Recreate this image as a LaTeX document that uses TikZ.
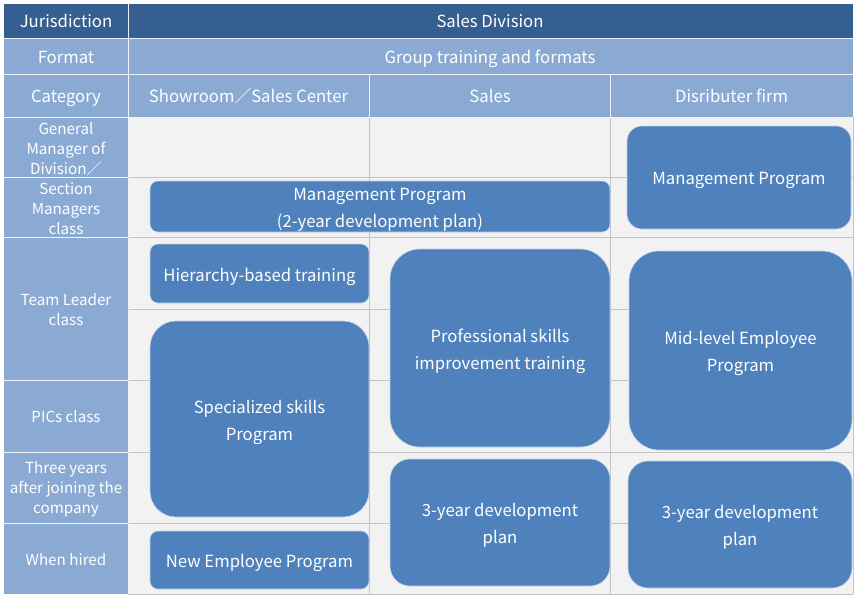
\documentclass[tikz,border=0pt]{standalone}
\usepackage{fontspec}
\setmainfont{Noto Sans CJK JP}
\definecolor{hdark}{HTML}{365F91}
\definecolor{hlight}{HTML}{8AAAD4}
\definecolor{cellbg}{HTML}{F2F2F2}
\definecolor{gridc}{HTML}{C4C4C4}
\definecolor{boxc}{HTML}{4F81BD}
\definecolor{boxedge}{HTML}{C5D3E6}
\begin{document}
\begin{tikzpicture}[x=1pt,y=-1pt,
  prog/.style={fill=boxc,draw=boxedge,line width=0.6pt,inner sep=0pt},
  progtxt/.style={text=white,align=center,inner sep=0pt,yshift=-3pt,
    font=\fontsize{16.7}{27}\selectfont},
  head/.style={text=white,anchor=base,inner sep=0pt,font=\fontsize{16.7}{20}\selectfont},
  lab/.style={text=white,align=center,inner sep=0pt,font=\fontsize{15.2}{20}\selectfont},
  gridline/.style={draw=gridc,line width=0.8pt},
  sepline/.style={draw=white!85!hlight,line width=1pt}]
\useasboundingbox (0,0) rectangle (858,598);
\fill[white] (0,0) rectangle (858,598);
% backgrounds
\fill[hdark] (4,4) rectangle (853,38);
\fill[hlight] (4,38) rectangle (853,117);
\fill[hlight] (4,117) rectangle (128,594);
\fill[cellbg] (128,117) rectangle (853,594);
% content grid
\foreach \yy in {177,237,309,380,452,523,594}
  \draw[gridline] (128,\yy) -- (853,\yy);
\foreach \xx in {369,610,853}
  \draw[gridline] (\xx,117) -- (\xx,594);
% header separators
\foreach \yy in {38,74,117}
  \draw[sepline] (4,\yy) -- (853,\yy);
\draw[sepline] (128,4) -- (128,594);
\draw[sepline] (369,74) -- (369,117);
\draw[sepline] (610,74) -- (610,117);
\foreach \yy in {177,237,380,452,523}
  \draw[sepline] (4,\yy) -- (128,\yy);
% header texts (baseline anchored)
\node[head] (hjur) at (66,27) {Jurisdiction};
\node[head] (hdiv) at (490,27) {Sales Division};
\node[head] (hfmt) at (66,63) {Format};
\node[head] (hgrp) at (490,63) {Group training and formats};
\node[head] (hcat) at (66,102) {Category};
\node[head] (hshow) at (248.5,102) {Showroom／Sales Center};
\node[head] (hsales) at (490,102) {Sales};
\node[head] (hdist) at (731.5,102) {Disributer firm};
% row labels
\node[lab] (lgm) at (66,149) {General\\Manager of\\Division／};
\node[lab] (lsm) at (66,209) {Section\\Managers\\class};
\node[lab] (ltl) at (66,309.5) {Team Leader\\class};
\node[lab] (lpic) at (66,417) {PICs class};
\node[lab] (l3y) at (66,489) {Three years\\after joining the\\company};
\node[lab] (lhire) at (66,560) {When hired};
% programs
\node[prog,minimum width=460pt,minimum height=51pt,rounded corners=8pt,
  label={[progtxt]center:{Management Program\\(2-year development plan)}}] (mgmt) at (380,206.5) {};
\node[prog,minimum width=224pt,minimum height=103pt,rounded corners=15pt,
  label={[progtxt]center:{Management Program}}] (mgmtd) at (739,177.5) {};
\node[prog,minimum width=219pt,minimum height=59pt,rounded corners=8pt,
  label={[progtxt]center:{Hierarchy-based training}}] (hier) at (259.5,273.5) {};
\node[prog,minimum width=219pt,minimum height=196pt,rounded corners=26pt,
  label={[progtxt]center:{Specialized skills\\Program}}] (spec) at (259.5,419) {};
\node[prog,minimum width=219pt,minimum height=58pt,rounded corners=8pt,
  label={[progtxt]center:{New Employee Program}}] (newemp) at (259.5,560) {};
\node[prog,minimum width=220pt,minimum height=198pt,rounded corners=30pt,
  label={[progtxt]center:{Professional skills\\improvement training}}] (prof) at (500,348) {};
\node[prog,minimum width=223pt,minimum height=199pt,rounded corners=30pt,
  label={[progtxt]center:{Mid-level Employee\\Program}}] (mid) at (740.5,350.5) {};
\node[prog,minimum width=220pt,minimum height=127pt,rounded corners=20pt,
  label={[progtxt]center:{3-year development\\plan}}] (dev1) at (500,522.5) {};
\node[prog,minimum width=224pt,minimum height=127pt,rounded corners=20pt,
  label={[progtxt]center:{3-year development\\plan}}] (dev2) at (740,524.5) {};
\end{tikzpicture}
\end{document}
